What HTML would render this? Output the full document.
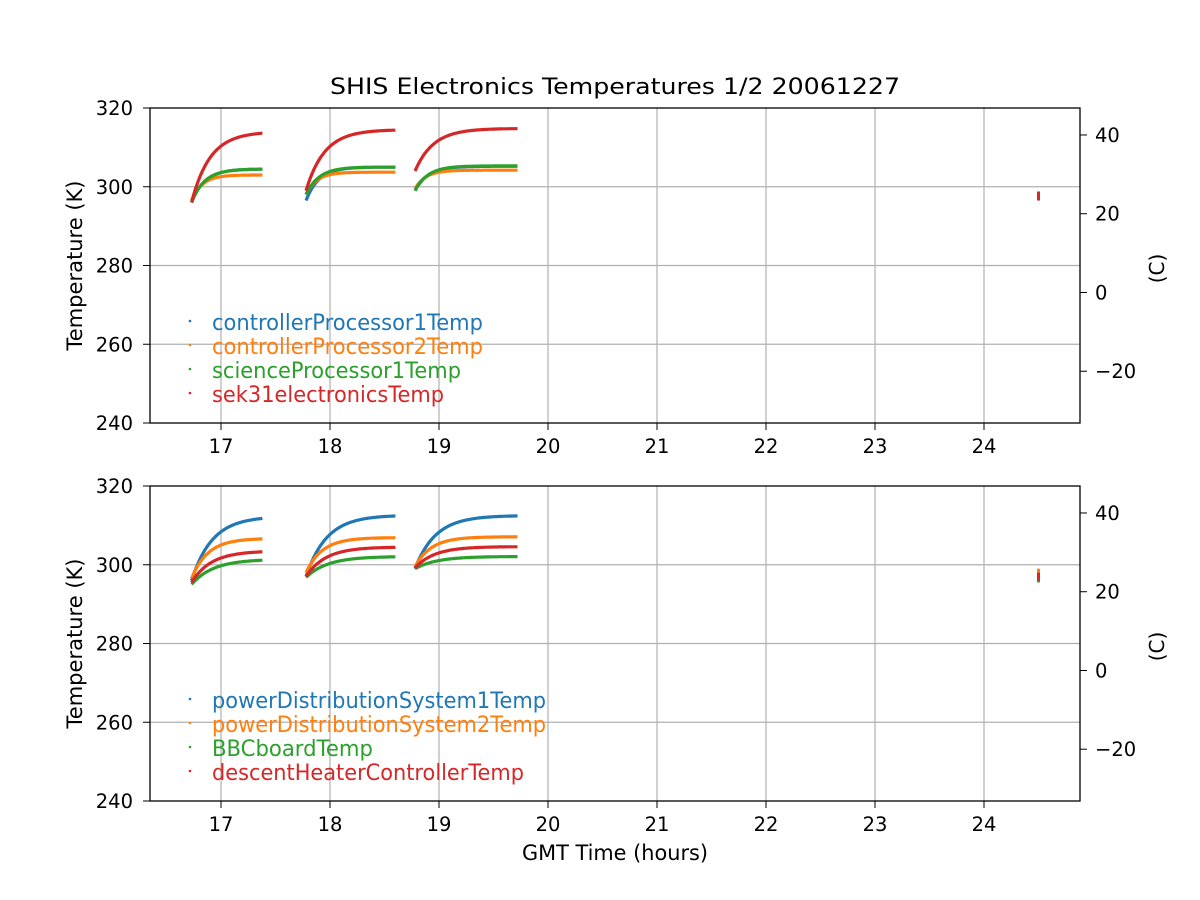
<!DOCTYPE html>
<html><head><meta charset="utf-8"><style>
html,body{margin:0;padding:0;background:#fff}
svg{display:block;font-family:"DejaVu Sans","Liberation Sans",sans-serif}
</style></head><body>
<svg id="s" width="1200" height="900" xmlns="http://www.w3.org/2000/svg">
<rect width="1200" height="900" fill="#fff"/>
<text x="615" y="94" font-size="22" text-anchor="middle" textLength="570" lengthAdjust="spacingAndGlyphs">SHIS Electronics Temperatures 1/2 20061227</text>
<g id="g"></g>
<text x="615" y="860" font-size="21" text-anchor="middle" textLength="186" lengthAdjust="spacingAndGlyphs">GMT Time (hours)</text>
</svg>
<script>
const NS="http://www.w3.org/2000/svg";const g=document.getElementById('g');
function el(t,a,txt){const e=document.createElementNS(NS,t);for(const k in a)e.setAttribute(k,a[k]);if(txt!=null)e.textContent=txt;g.appendChild(e);return e;}
const C={b:'#1f77b4',o:'#ff7f0e',gr:'#2ca02c',r:'#d62728'};
const X=h=>221+(h-17)*109;
function axes(top,leg,series){
  const bot=top+315, Y=k=>bot-(k-240)/80*315;
  for(let h=17;h<=24;h++){el('line',{x1:X(h),x2:X(h),y1:top,y2:bot,stroke:'#b0b0b0','stroke-width':1.2});}
  for(let k=260;k<=300;k+=20){el('line',{x1:150,x2:1080,y1:Y(k),y2:Y(k),stroke:'#b0b0b0','stroke-width':1.2});}
  for(const s of series){
    for(const seg of s.segs){
      const [t0,t1,T0,Te,tau]=seg;let d='';
      for(let t=t0;t<=t1+1e-9;t+=0.005){const T=Te-(Te-T0)*Math.exp(-(t-t0)/tau);d+=(d?'L':'M')+X(t).toFixed(1)+','+Y(T).toFixed(1);}
      el('path',{d:d,fill:'none',stroke:s.c,'stroke-width':3.2});
    }
    el('line',{x1:X(24.5),x2:X(24.5),y1:Y(s.p[0]),y2:Y(s.p[1]),stroke:s.c,'stroke-width':3});
  }
  el('rect',{x:150,y:top,width:930,height:315,fill:'none',stroke:'#000','stroke-width':1.3});
  for(let h=17;h<=24;h++){el('line',{x1:X(h),x2:X(h),y1:bot,y2:bot+7,stroke:'#000'});el('text',{x:X(h),y:bot+30,'font-size':19.5,'text-anchor':'middle'},h);}
  for(let k=240;k<=320;k+=20){el('line',{x1:143,x2:150,y1:Y(k),y2:Y(k),stroke:'#000'});el('text',{x:133,y:Y(k)+7,'font-size':19.5,'text-anchor':'end'},k);}
  for(let c=-20;c<=40;c+=20){const y=Y(c+273.15);el('line',{x1:1080,x2:1087,y1:y,y2:y,stroke:'#000'});el('text',{x:1095,y:y+7,'font-size':19.5},c<0?'\u2212'+(-c):c);}
  const ym=(top+bot)/2, yc=(top+bot)/2+3;
  el('text',{x:82,y:ym,'font-size':21,'text-anchor':'middle',transform:`rotate(-90 82 ${ym})`,textLength:170,lengthAdjust:'spacingAndGlyphs'},'Temperature (K)');
  el('text',{x:1164,y:yc,'font-size':20,'text-anchor':'middle',transform:`rotate(-90 1164 ${yc})`},'(C)');
  leg.forEach((l,i)=>{const y=top+213+i*24;el('circle',{cx:190,cy:y,r:1.3,fill:l[1]});el('text',{x:212,y:y+9,'font-size':22,fill:l[1],textLength:l[2],lengthAdjust:'spacingAndGlyphs'},l[0]);});
}
axes(108,[['controllerProcessor1Temp',C.b,271],['controllerProcessor2Temp',C.o,271],['scienceProcessor1Temp',C.gr,249],['sek31electronicsTemp',C.r,232]],[
 {c:C.b,segs:[[16.73,17.38,296,304.5,0.12],[17.78,18.6,296.5,305,0.12],[18.78,19.72,299,305.2,0.12]],p:[297,298.5]},
 {c:C.o,segs:[[16.73,17.38,296.5,303,0.1],[17.78,18.6,298,303.7,0.1],[18.78,19.72,299.5,304.2,0.1]],p:[297,298.5]},
 {c:C.gr,segs:[[16.73,17.38,296,304.5,0.12],[17.78,18.6,298,305,0.12],[18.78,19.72,299,305.3,0.12]],p:[297,298.5]},
 {c:C.r,segs:[[16.73,17.38,296,314,0.17],[17.78,18.6,299,314.5,0.17],[18.78,19.72,304,314.8,0.17]],p:[296.5,298.8]}]);
axes(486,[['powerDistributionSystem1Temp',C.b,334],['powerDistributionSystem2Temp',C.o,334],['BBCboardTemp',C.gr,161],['descentHeaterControllerTemp',C.r,312]],[
 {c:C.b,segs:[[16.73,17.38,296,312.3,0.19],[17.78,18.6,297,312.6,0.19],[18.78,19.72,299,312.5,0.19]],p:[296,298]},
 {c:C.o,segs:[[16.73,17.38,296.5,306.7,0.15],[17.78,18.6,298,306.9,0.15],[18.78,19.72,299.5,307.1,0.15]],p:[297,299]},
 {c:C.gr,segs:[[16.73,17.38,295,301.4,0.2],[17.78,18.6,296.8,302.1,0.2],[18.78,19.72,299,302.1,0.2]],p:[295.5,297]},
 {c:C.r,segs:[[16.73,17.38,295.5,303.5,0.18],[17.78,18.6,297,304.5,0.18],[18.78,19.72,299.2,304.6,0.18]],p:[296,298]}]);
</script>
</body></html>
